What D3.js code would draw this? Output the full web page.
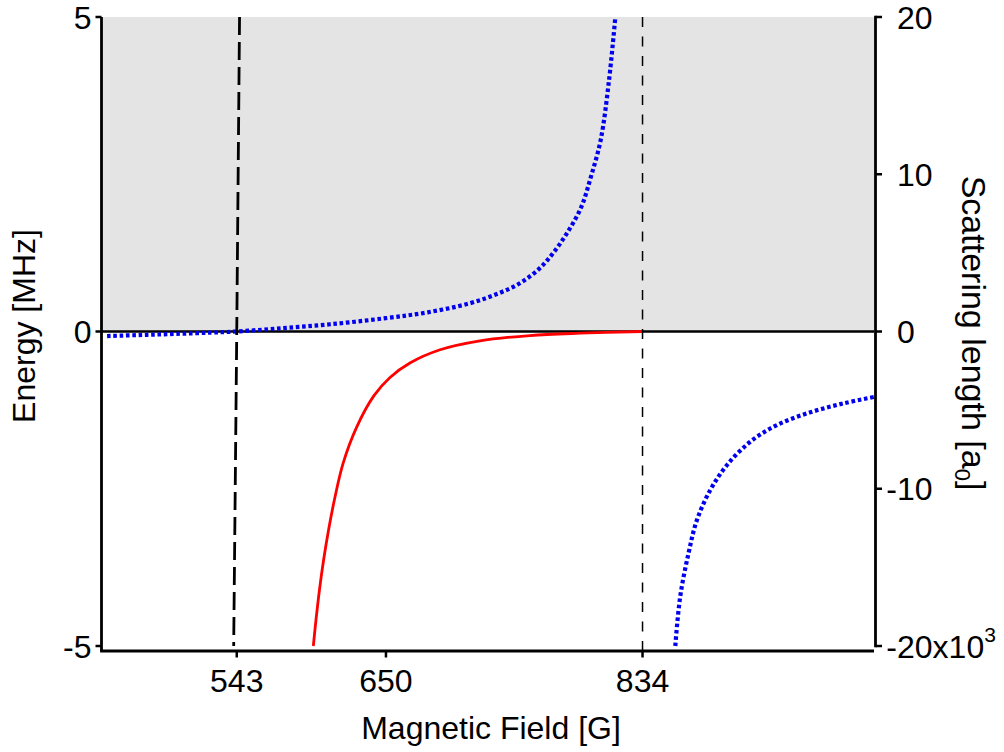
<!DOCTYPE html>
<html>
<head>
<meta charset="utf-8">
<script src="https://cdn.jsdelivr.net/npm/d3@7"></script>
<style>
  html, body { margin: 0; padding: 0; background: #ffffff; }
  svg { display: block; }
  text { font-family: "Liberation Sans", Arial, Helvetica, sans-serif; fill: #000; }
</style>
</head>
<body>
<svg id="chart" width="1004" height="752"></svg>
<script>
// ---- data ----
const xTicks = [543, 650, 834];
const leftTicks = [-5, 0, 5];
const rightTicks = [-20000, -10000, 0, 10000, 20000];
const rightTickLabels = ["-20x10", "-10", "0", "10", "20"];

// scattering length, branch below the resonance (a0)
const scatLowB = [450, 475, 500, 525, 543, 575, 610, 650, 680, 710, 730, 746, 760, 770, 780, 790, 797, 804, 810, 814.5];
const scatLowA = [-290, -220, -150, -70, 0, 210, 460, 850, 1220, 1790, 2400, 3070, 4000, 5000, 6280, 7900, 9840, 12180, 16000, 20000];
// scattering length, branch above the resonance (a0)
const scatHighB = [857.5, 861, 867, 873, 882.6, 894.6, 911.3, 930.4, 954.3, 978.2, 1000];
const scatHighA = [-20000, -16870, -14100, -11990, -10080, -8490, -7010, -5950, -5140, -4570, -4160];
// molecular binding energy (MHz)
const boundB = [597.9, 599.8, 602.3, 605.3, 608.8, 613.0, 619.2, 629.0, 641.4, 652.9, 667.2, 688.8, 717.4, 753.3, 789.2, 834];
const boundE = [-5, -4.59, -4.11, -3.63, -3.16, -2.68, -2.10, -1.52, -1.02, -0.73, -0.50, -0.29, -0.148, -0.064, -0.027, 0];
// zero crossing marker line (B, E)
const zeroCrossB = [545, 543, 540.8];
const zeroCrossE = [5, 0, -5];
// resonance position
const resonanceB = 834;

// ---- layout ----
const svg = d3.select("#chart");
const L = 101.5, R = 874, T = 17, Bt = 646, axisY = 651;

const x = d3.scaleLinear().domain([446, 1000]).range([L, R]);
const yE = d3.scaleLinear().domain([-5, 5]).range([Bt, T]);
const yA = d3.scaleLinear().domain([-20000, 20000]).range([Bt, T]);

svg.append("defs").append("clipPath").attr("id", "clip")
  .append("rect").attr("x", L).attr("y", T).attr("width", R - L).attr("height", axisY - T);

// gray region above zero energy
svg.append("rect")
  .attr("x", L).attr("y", yE(5))
  .attr("width", R - L).attr("height", yE(0) - yE(5))
  .attr("fill", "#e4e4e4");

const plot = svg.append("g").attr("clip-path", "url(#clip)");

// zero line
plot.append("line")
  .attr("x1", L).attr("x2", R).attr("y1", yE(0)).attr("y2", yE(0))
  .attr("stroke", "#000").attr("stroke-width", 2.5);

// resonance dashed line
svg.append("line")
  .attr("x1", x(resonanceB)).attr("x2", x(resonanceB))
  .attr("y1", yE(5)).attr("y2", axisY)
  .attr("stroke", "#000").attr("stroke-width", 1.5)
  .attr("stroke-dasharray", "10,9.5");

// zero crossing dashed line
const zcLine = d3.line().x(d => x(d[0])).y(d => yE(d[1]));
svg.append("path")
  .attr("d", zcLine(d3.zip(zeroCrossB, zeroCrossE)))
  .attr("fill", "none").attr("stroke", "#000").attr("stroke-width", 2.8)
  .attr("stroke-dasharray", "18,7");

// bound state energy
const eLine = d3.line().x(d => x(d[0])).y(d => yE(d[1])).curve(d3.curveCatmullRom.alpha(0.5));
plot.append("path")
  .attr("d", eLine(d3.zip(boundB, boundE)))
  .attr("fill", "none").attr("stroke", "#ff0000").attr("stroke-width", 2.8);

// scattering length
const aLine = d3.line().x(d => x(d[0])).y(d => yA(d[1])).curve(d3.curveCatmullRom.alpha(0.5));
[[scatLowB, scatLowA], [scatHighB, scatHighA]].forEach(([bs, as]) => {
  plot.append("path")
    .attr("d", aLine(d3.zip(bs, as)))
    .attr("fill", "none").attr("stroke", "#0000ee").attr("stroke-width", 4.2)
    .attr("stroke-dasharray", "3.6,2.7");
});

// ---- axes ----
const fs = 32;
// left axis
const gl = svg.append("g").attr("transform", `translate(${L},0)`);
gl.append("line").attr("x1", 0).attr("x2", 0).attr("y1", T).attr("y2", axisY)
  .attr("stroke", "#000").attr("stroke-width", 2.8);
leftTicks.forEach(v => {
  gl.append("line").attr("x1", -6).attr("x2", 0).attr("y1", yE(v)).attr("y2", yE(v))
    .attr("stroke", "#000").attr("stroke-width", 2.5);
  gl.append("text").attr("x", -10).attr("y", yE(v)).attr("dy", "0.36em")
    .attr("text-anchor", "end").attr("font-size", fs).text(v);
});

// bottom axis
const gb = svg.append("g");
gb.append("line").attr("x1", L - 1.4).attr("x2", R).attr("y1", axisY).attr("y2", axisY)
  .attr("stroke", "#000").attr("stroke-width", 2.8);
xTicks.forEach(v => {
  gb.append("line").attr("x1", x(v)).attr("x2", x(v)).attr("y1", axisY).attr("y2", axisY + 6.5)
    .attr("stroke", "#000").attr("stroke-width", 2.5);
  gb.append("text").attr("x", x(v)).attr("y", 692)
    .attr("text-anchor", "middle").attr("font-size", fs).text(v);
});

// right axis
const rx = 875.5;
const gr = svg.append("g");
gr.append("line").attr("x1", rx).attr("x2", rx).attr("y1", T - 1.2).attr("y2", Bt + 1.2)
  .attr("stroke", "#000").attr("stroke-width", 2.8);
rightTicks.forEach((v, i) => {
  gr.append("line").attr("x1", rx).attr("x2", rx + 6.5).attr("y1", yA(v)).attr("y2", yA(v))
    .attr("stroke", "#000").attr("stroke-width", 2.5);
  const lab = rightTickLabels[i];
  const neg = lab.startsWith("-");
  const t = gr.append("text").attr("y", yA(v)).attr("dy", "0.36em")
    .attr("font-size", fs);
  t.attr("x", 897);
  if (neg) {
    gr.append("text").attr("x", 897).attr("y", yA(v)).attr("dy", "0.36em")
      .attr("text-anchor", "end").attr("font-size", fs).text("-");
    t.text(lab.slice(1));
  } else {
    t.text(lab);
  }
  if (v === -20000) {
    t.append("tspan").attr("font-size", 21).attr("dy", "-0.75em").text("3");
  }
});

// axis titles
svg.append("text").attr("x", 491).attr("y", 739)
  .attr("text-anchor", "middle").attr("font-size", fs).text("Magnetic Field [G]");

svg.append("text").attr("transform", "translate(35,326) rotate(-90)")
  .attr("text-anchor", "middle").attr("font-size", fs).text("Energy [MHz]");

const rt = svg.append("text").attr("transform", "translate(962,333) rotate(90)")
  .attr("text-anchor", "middle").attr("font-size", 34);
rt.append("tspan").text("Scattering length [a");
rt.append("tspan").attr("font-size", 22).attr("dy", 7).text("0");
rt.append("tspan").attr("dy", -7).text("]");
</script>
</body>
</html>
